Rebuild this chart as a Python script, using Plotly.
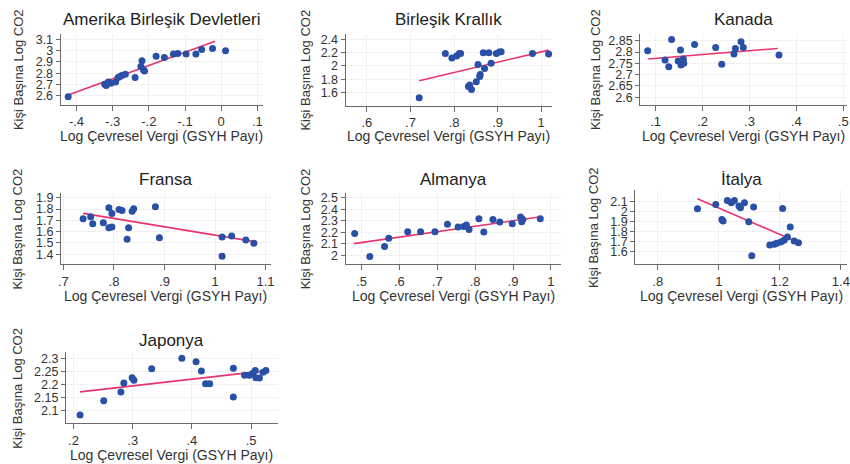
import plotly.graph_objects as go

# ---------------- DATA ----------------
titles = ["Amerika Birleşik Devletleri", "Birleşik Krallık", "Kanada",
          "Fransa", "Almanya", "İtalya", "Japonya"]
x_title = "Log Çevresel Vergi (GSYH Payı)"
y_title = "Kişi Başına Log CO2"

usa_x = [-0.423, -0.322, -0.318, -0.312, -0.305, -0.292, -0.285, -0.28, -0.275, -0.265,
         -0.238, -0.222, -0.219, -0.215, -0.212, -0.18, -0.157, -0.132, -0.12, -0.097,
         -0.07, -0.054, -0.024, 0.012]
usa_y = [2.59, 2.70, 2.69, 2.72, 2.71, 2.72, 2.76, 2.77, 2.78, 2.79,
         2.76, 2.86, 2.91, 2.83, 2.82, 2.95, 2.94, 2.97, 2.975, 2.97,
         2.97, 3.01, 3.02, 3.0]
usa_fit_x = [-0.423, -0.017]
usa_fit_y = [2.605, 3.085]

uk_x = [0.72, 0.78, 0.795, 0.806, 0.812, 0.815, 0.833, 0.836, 0.84, 0.851, 0.855,
        0.859, 0.86, 0.867, 0.87, 0.88, 0.885, 0.897, 0.904, 0.908, 0.98, 1.017]
uk_y = [1.52, 2.19, 2.12, 2.15, 2.19, 2.19, 1.69, 1.71, 1.645, 1.76, 2.02,
        1.84, 1.87, 2.2, 1.96, 2.2, 2.04, 2.19, 2.21, 2.215, 2.19, 2.18]
uk_fit_x = [0.72, 1.017]
uk_fit_y = [1.776, 2.24]

can_x = [0.083, 0.12, 0.128, 0.134, 0.148, 0.153, 0.154, 0.155, 0.159, 0.16,
         0.183, 0.228, 0.241, 0.267, 0.27, 0.282, 0.287, 0.363]
can_y = [2.806, 2.765, 2.735, 2.856, 2.76, 2.809, 2.743, 2.754, 2.769, 2.75,
         2.834, 2.82, 2.746, 2.791, 2.816, 2.846, 2.82, 2.787]
can_fit_x = [0.084, 0.36]
can_fit_y = [2.769, 2.816]

fra_x = [0.739, 0.754, 0.758, 0.779, 0.79, 0.79, 0.796, 0.796, 0.81, 0.816, 0.826,
         0.829, 0.836, 0.839, 0.882, 0.89, 1.014, 1.014, 1.033, 1.061, 1.077]
fra_y = [1.715, 1.732, 1.671, 1.68, 1.812, 1.635, 1.641, 1.762, 1.797, 1.788, 1.532,
         1.635, 1.782, 1.803, 1.82, 1.547, 1.553, 1.382, 1.562, 1.526, 1.497]
fra_fit_x = [0.739, 1.082]
fra_fit_y = [1.762, 1.509]

deu_x = [0.482, 0.522, 0.561, 0.572, 0.622, 0.656, 0.694, 0.727, 0.755, 0.77, 0.777,
         0.784, 0.81, 0.823, 0.847, 0.865, 0.898, 0.92, 0.923, 0.926, 0.972]
deu_y = [2.188, 1.988, 2.075, 2.147, 2.205, 2.205, 2.205, 2.269, 2.246, 2.249, 2.263,
         2.225, 2.318, 2.202, 2.312, 2.289, 2.275, 2.332, 2.292, 2.31, 2.318]
deu_fit_x = [0.48, 0.974]
deu_fit_y = [2.101, 2.335]

ita_x = [0.93, 0.99, 1.01, 1.014, 1.028, 1.041, 1.051, 1.066, 1.071, 1.084, 1.098, 1.108,
         1.114, 1.167, 1.182, 1.19, 1.203, 1.209, 1.214, 1.225, 1.234, 1.247, 1.261]
ita_y = [2.025, 2.067, 1.92, 1.904, 2.107, 2.084, 2.107, 2.051, 2.035, 2.084, 1.897, 1.561,
         2.041, 1.669, 1.675, 1.685, 1.698, 2.028, 1.714, 1.747, 1.845, 1.708, 1.69]
ita_fit_x = [0.93, 1.257]
ita_fit_y = [2.123, 1.698]

jpn_x = [0.211, 0.251, 0.28, 0.285, 0.299, 0.302, 0.332, 0.383, 0.407, 0.416, 0.423,
         0.43, 0.47, 0.47, 0.489, 0.497, 0.503, 0.507, 0.508, 0.514, 0.52, 0.525]
jpn_y = [2.084, 2.138, 2.172, 2.206, 2.226, 2.216, 2.26, 2.3, 2.287, 2.251, 2.203,
         2.203, 2.262, 2.153, 2.235, 2.235, 2.243, 2.253, 2.226, 2.225, 2.247, 2.253]
jpn_fit_x = [0.211, 0.528]
jpn_fit_y = [2.172, 2.253]

# tick values / labels
usa_xt = [-0.4, -0.3, -0.2, -0.1, 0, 0.1]
usa_xl = ["-.4", "-.3", "-.2", "-.1", "0", ".1"]
usa_yt = [2.6, 2.7, 2.8, 2.9, 3, 3.1]
usa_yl = ["2.6", "2.7", "2.8", "2.9", "3", "3.1"]
uk_xt = [0.6, 0.7, 0.8, 0.9, 1]
uk_xl = [".6", ".7", ".8", ".9", "1"]
uk_yt = [1.6, 1.8, 2, 2.2, 2.4]
uk_yl = ["1.6", "1.8", "2", "2.2", "2.4"]
can_xt = [0.1, 0.2, 0.3, 0.4, 0.5]
can_xl = [".1", ".2", ".3", ".4", ".5"]
can_yt = [2.6, 2.65, 2.7, 2.75, 2.8, 2.85]
can_yl = ["2.6", "2.65", "2.7", "2.75", "2.8", "2.85"]
fra_xt = [0.7, 0.8, 0.9, 1, 1.1]
fra_xl = [".7", ".8", ".9", "1", "1.1"]
fra_yt = [1.4, 1.5, 1.6, 1.7, 1.8, 1.9]
fra_yl = ["1.4", "1.5", "1.6", "1.7", "1.8", "1.9"]
deu_xt = [0.5, 0.6, 0.7, 0.8, 0.9, 1]
deu_xl = [".5", ".6", ".7", ".8", ".9", "1"]
deu_yt = [2, 2.1, 2.2, 2.3, 2.4, 2.5]
deu_yl = ["2", "2.1", "2.2", "2.3", "2.4", "2.5"]
ita_xt = [0.8, 1, 1.2, 1.4]
ita_xl = [".8", "1", "1.2", "1.4"]
ita_yt = [1.6, 1.7, 1.8, 1.9, 2, 2.1]
ita_yl = ["1.6", "1.7", "1.8", "1.9", "2", "2.1"]
jpn_xt = [0.2, 0.3, 0.4, 0.5]
jpn_xl = [".2", ".3", ".4", ".5"]
jpn_yt = [2.1, 2.15, 2.2, 2.25, 2.3]
jpn_yl = ["2.1", "2.15", "2.2", "2.25", "2.3"]

# axis ranges
usa_xr, usa_yr = [-0.444, 0.116], [2.52, 3.15]
uk_xr, uk_yr = [0.551, 1.025], [1.40, 2.486]
can_xr, can_yr = [0.067, 0.508], [2.566, 2.882]
fra_xr, fra_yr = [0.695, 1.111], [1.312, 1.944]
deu_xr, deu_yr = [0.458, 1.026], [1.922, 2.543]
ita_xr, ita_yr = [0.726, 1.42], [1.479, 2.205]
jpn_xr, jpn_yr = [0.187, 0.545], [2.052, 2.323]

# ---------------- LAYOUT ----------------
W, H = 850, 464
# plot-area pixel boxes: left, right, top, bottom
boxes = [(58, 262, 32, 103), (345, 553, 32, 104), (641.7, 850, 31.7, 103.3),
         (58.3, 270, 191.7, 263.3), (345, 561.7, 191.7, 263.3), (636.7, 850, 189.3, 263.3),
         (63.3, 276.7, 351.7, 423.3)]
ytitle_x = [15, 305, 596, 15, 305, 595, 15]
title_y = [18, 18, 18, 178, 178, 178, 340]
xtitle_y = [135, 135, 135, 295, 295, 295, 455]

panels = [
    (usa_x, usa_y, usa_fit_x, usa_fit_y, usa_xt, usa_xl, usa_yt, usa_yl, usa_xr, usa_yr),
    (uk_x, uk_y, uk_fit_x, uk_fit_y, uk_xt, uk_xl, uk_yt, uk_yl, uk_xr, uk_yr),
    (can_x, can_y, can_fit_x, can_fit_y, can_xt, can_xl, can_yt, can_yl, can_xr, can_yr),
    (fra_x, fra_y, fra_fit_x, fra_fit_y, fra_xt, fra_xl, fra_yt, fra_yl, fra_xr, fra_yr),
    (deu_x, deu_y, deu_fit_x, deu_fit_y, deu_xt, deu_xl, deu_yt, deu_yl, deu_xr, deu_yr),
    (ita_x, ita_y, ita_fit_x, ita_fit_y, ita_xt, ita_xl, ita_yt, ita_yl, ita_xr, ita_yr),
    (jpn_x, jpn_y, jpn_fit_x, jpn_fit_y, jpn_xt, jpn_xl, jpn_yt, jpn_yl, jpn_xr, jpn_yr),
]

FONT = "Liberation Sans, Arial, sans-serif"
MARK = "#2a4fa6"
LINE = "#e8336e"
AXC = "#6a6a6a"
TXT = "#333333"

fig = go.Figure()
layout = dict(width=W, height=H, margin=dict(l=0, r=0, t=0, b=0),
              paper_bgcolor="white", plot_bgcolor="white", showlegend=False,
              font=dict(family=FONT, color=TXT))
annotations = []

for i, (px, py, fx, fy, xt, xl, yt, yl, xr, yr) in enumerate(panels):
    n = "" if i == 0 else str(i + 1)
    xa, ya = "x" + n, "y" + n
    l, r, t, b = boxes[i]
    fig.add_trace(go.Scatter(x=fx, y=fy, mode="lines", xaxis=xa, yaxis=ya,
                             line=dict(color=LINE, width=1.6), hoverinfo="skip"))
    fig.add_trace(go.Scatter(x=px, y=py, mode="markers", xaxis=xa, yaxis=ya,
                             marker=dict(color=MARK, size=7, line=dict(width=0))))
    layout["xaxis" + n] = dict(domain=[l / W, r / W], anchor=ya, range=xr,
                               tickvals=xt, ticktext=xl, ticks="outside", ticklen=5,
                               tickcolor=AXC, showline=True, linecolor=AXC, linewidth=1,
                               showgrid=True, gridcolor="#f1f1f1", gridwidth=1,
                               zeroline=False, tickfont=dict(size=13, color=TXT))
    layout["yaxis" + n] = dict(domain=[1 - b / H, 1 - t / H], anchor=xa, range=yr,
                               tickvals=yt, ticktext=yl, ticks="outside", ticklen=4,
                               tickcolor=AXC, showline=True, linecolor=AXC, linewidth=1,
                               showgrid=True, gridcolor="#f1f1f1", gridwidth=1,
                               zeroline=False, tickfont=dict(size=12.5, color=TXT),
                               tickangle=0)
    cx = (l + r) / 2 / W
    annotations.append(dict(text=titles[i], x=cx, y=1 - title_y[i] / H, xref="paper",
                            yref="paper", xanchor="center", yanchor="middle",
                            showarrow=False, font=dict(size=17, color="#222222")))
    annotations.append(dict(text=x_title, x=cx, y=1 - xtitle_y[i] / H, xref="paper",
                            yref="paper", xanchor="center", yanchor="middle",
                            showarrow=False, font=dict(size=14, color=TXT)))
    annotations.append(dict(text=y_title, x=ytitle_x[i] / W, y=1 - (t + b) / 2 / H,
                            xref="paper", yref="paper", xanchor="center",
                            yanchor="middle", textangle=-90, showarrow=False,
                            font=dict(size=13, color=TXT)))

layout["annotations"] = annotations
fig.update_layout(**layout)
fig.write_html("out.html")
